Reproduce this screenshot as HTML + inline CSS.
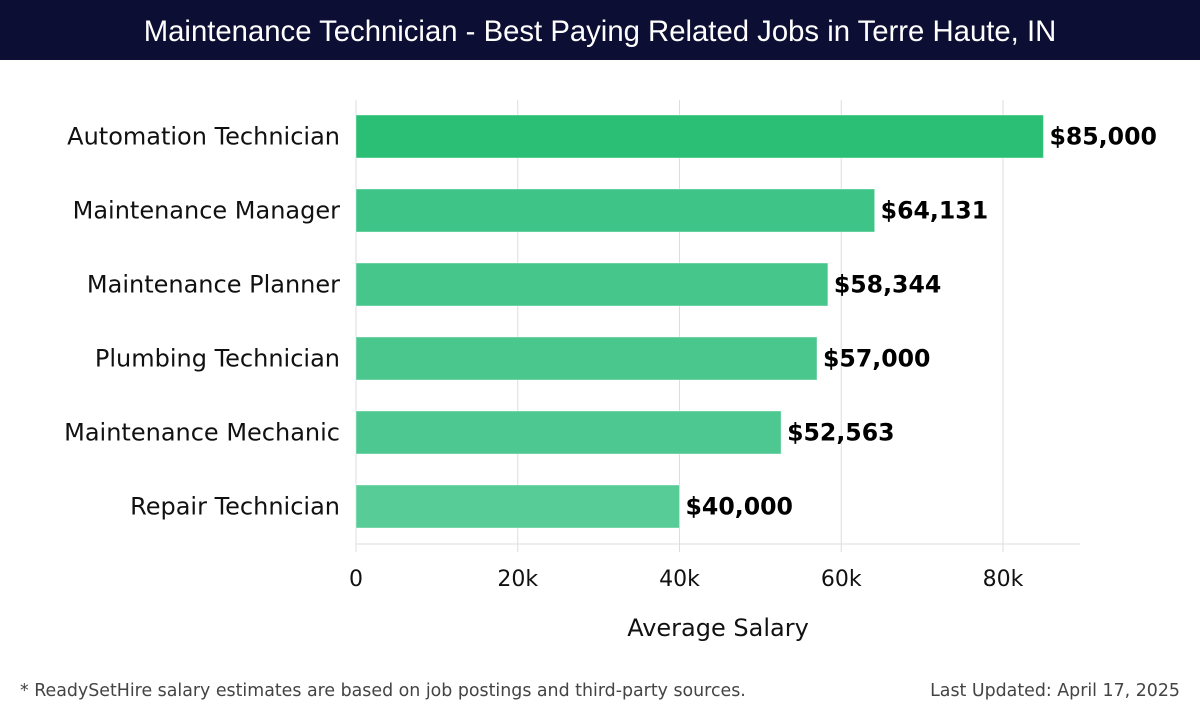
<!DOCTYPE html>
<html><head><meta charset="utf-8"><style>
body{margin:0;width:1200px;height:720px;background:#fff;font-family:"DejaVu Sans","Liberation Sans",sans-serif;overflow:hidden}
#title{position:absolute;left:0;top:0;width:1200px;height:60px;background:#0d0e33;color:#fff;font-family:"Liberation Sans",sans-serif;font-size:29.3px;text-align:center;line-height:64px}
.foot{position:absolute;top:681px;font-size:17.4px;color:#444;font-family:"DejaVu Sans",sans-serif}
</style></head><body>
<div id="title">Maintenance Technician - Best Paying Related Jobs in Terre Haute, IN</div>
<svg id="chart" width="1200" height="720" style="position:absolute;left:0;top:0;font-family:'DejaVu Sans',sans-serif"></svg>
<div class="foot" style="left:20px">* ReadySetHire salary estimates are based on job postings and third-party sources.</div>
<div class="foot" style="right:20px">Last Updated: April 17, 2025</div>
<script>
const categories=["Automation Technician","Maintenance Manager","Maintenance Planner","Plumbing Technician","Maintenance Mechanic","Repair Technician"];
const values=[85000,64131,58344,57000,52563,40000];
const valueLabels=["$85,000","$64,131","$58,344","$57,000","$52,563","$40,000"];
const ticks=[0,20000,40000,60000,80000];
const tickLabels=["0","20k","40k","60k","80k"];
const colors=["#2bbf75","#3fc487","#47c68b","#4ac78d","#4ec891","#57cc97"];
const svg=document.getElementById('chart');const NS='http://www.w3.org/2000/svg';
const x0=356,pxPer=647/80000,top0=115,step=74,bh=43,plotTop=100,axisY=544,plotRight=1080;
const X=v=>x0+v*pxPer;
function mk(t,a){const e=document.createElementNS(NS,t);for(const k in a)e.setAttribute(k,a[k]);svg.appendChild(e);return e;}
ticks.forEach((t,i)=>{
 const g=mk('line',{x1:X(t),x2:X(t),y1:plotTop,y2:552,stroke:'#ddd','stroke-width':1});
 
 
 const l=mk('text',{x:X(t),y:586,'text-anchor':'middle','font-size':22,fill:'#111'});l.textContent=tickLabels[i];
 
 
});
const ax=mk('line',{x1:x0,x2:plotRight,y1:axisY,y2:axisY,stroke:'#ddd','stroke-width':1});


const yl=mk('line',{x1:x0,x2:x0,y1:plotTop,y2:552,stroke:'#ddd','stroke-width':1});


categories.forEach((c,i)=>{
 const y=top0+i*step;
 const r=mk('rect',{x:x0,y:y,width:X(values[i])-x0,height:bh,fill:colors[i],stroke:'rgba(255,255,255,0.4)'});
 
 
 const cl=mk('text',{x:340,y:y+bh/2+8,'text-anchor':'end','font-size':24,fill:'#111'});cl.textContent=c;
 
 
 const vl=mk('text',{x:X(values[i])+6,y:y+bh/2+8,'font-size':23.6,'font-weight':'bold',fill:'#000'});vl.textContent=valueLabels[i];
 
 
});
const xt=mk('text',{x:718,y:636,'text-anchor':'middle','font-size':24,fill:'#111'});xt.textContent='Average Salary';


</script>
</body></html>
